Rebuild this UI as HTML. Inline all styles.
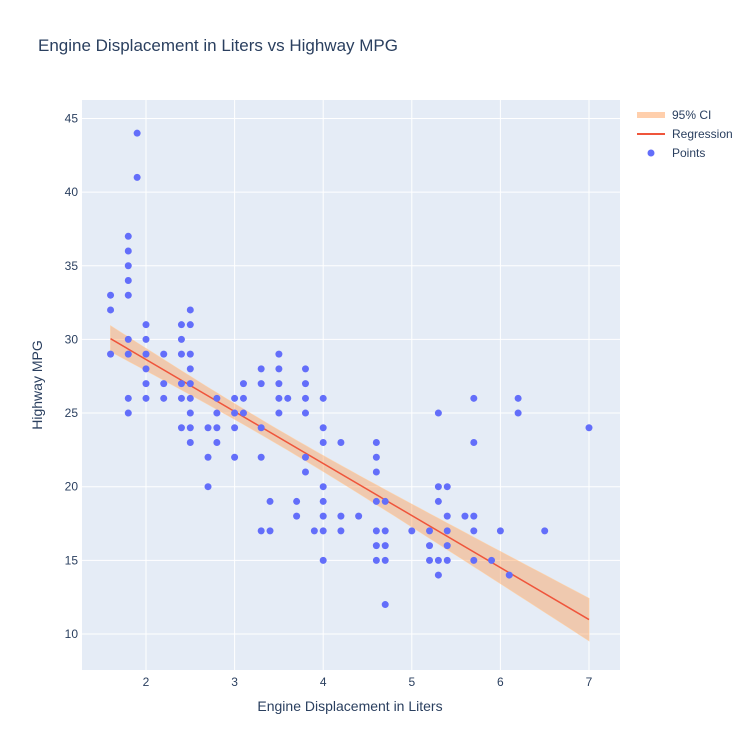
<!DOCTYPE html>
<html><head><meta charset="utf-8"><style>
body{margin:0;background:#fff;}
svg{display:block;font-family:"Liberation Sans",Arial,sans-serif;}
</style></head><body>
<svg id="s" width="750" height="750" xmlns="http://www.w3.org/2000/svg">
<rect x="0" y="0" width="750" height="750" fill="#fff"/>
<rect x="82" y="100" width="538" height="570" fill="#e5ecf6"/>
<g id="grid"></g>
<g id="ci"></g>
<g id="pts"></g>
<text x="38" y="51" font-size="17" fill="#2a3f5f">Engine Displacement in Liters vs Highway MPG</text>
<text x="350" y="711" font-size="14" fill="#2a3f5f" text-anchor="middle">Engine Displacement in Liters</text>
<text transform="translate(42,385) rotate(-90)" font-size="14" fill="#2a3f5f" text-anchor="middle">Highway MPG</text>
<g font-size="12" fill="#2a3f5f">
<line x1="637" y1="115" x2="665" y2="115" stroke="rgba(255,160,90,0.5)" stroke-width="6"/>
<text x="672" y="119">95% CI</text>
<line x1="637" y1="134" x2="665" y2="134" stroke="#ef553b" stroke-width="2"/>
<text x="672" y="138">Regression</text>
<circle cx="651" cy="153" r="3.5" fill="#636efa"/>
<text x="672" y="157">Points</text>
</g>
</svg>
<script>
var NS="http://www.w3.org/2000/svg";
function px(x){return 146+(x-2)*88.6;}
function py(y){return 634-(y-10)*14.73;}
function el(p,t,a,txt){var e=document.createElementNS(NS,t);for(var k in a)e.setAttribute(k,a[k]);if(txt!==undefined)e.textContent=txt;document.getElementById(p).appendChild(e);return e;}
for(var x=2;x<=7;x++){el("grid","line",{x1:px(x),x2:px(x),y1:100,y2:670,stroke:"#fff","stroke-width":1});
el("grid","text",{x:px(x),y:686,"font-size":12,fill:"#2a3f5f","text-anchor":"middle"},x);}
for(var y=10;y<=45;y+=5){el("grid","line",{x1:82,x2:620,y1:py(y),y2:py(y),stroke:"#fff","stroke-width":1});
el("grid","text",{x:78,y:py(y)+4,"font-size":12,fill:"#2a3f5f","text-anchor":"end"},y);}
// CI
var up=[],lo=[];
for(var i=0;i<=54;i++){var x=1.6+i*0.1;var f=35.698-3.531*x;var se=3.836*Math.sqrt(1/234+(x-3.472)*(x-3.472)/387);var h=1.96*se;
up.push(px(x).toFixed(1)+","+py(f+h).toFixed(1));lo.unshift(px(x).toFixed(1)+","+py(f-h).toFixed(1));}
el("ci","polygon",{points:up.concat(lo).join(" "),fill:"rgba(255,150,70,0.4)",stroke:"rgba(255,200,150,0.6)","stroke-width":1});
el("ci","line",{x1:px(1.6),y1:py(35.698-3.531*1.6),x2:px(7),y2:py(35.698-3.531*7),stroke:"#ef553b","stroke-width":1.5});
var d={1.6:[33,32,29],1.8:[37,36,35,34,33,30,29,26,25],1.9:[44,41],2.0:[31,30,29,28,27,26],2.2:[29,27,26],
2.4:[31,30,29,27,26,24],2.5:[32,31,29,28,27,26,25,24,23],2.7:[24,22,20],2.8:[26,25,24,23],3.0:[26,25,24,22],
3.1:[27,26,25],3.3:[28,27,24,22,17],3.4:[19,17],3.5:[29,28,27,26,25],3.6:[26],3.7:[19,18],3.8:[28,27,26,25,22,21],
3.9:[17],4.0:[26,24,23,20,19,18,17,15],4.2:[23,18,17],4.4:[18],4.6:[23,22,21,19,17,16,15],4.7:[19,17,16,15,12],
5.0:[17],5.2:[17,16,15],5.3:[25,20,19,15,14],5.4:[20,18,17,16,15],5.6:[18],5.7:[26,23,18,17,15],5.9:[15],6.0:[17],
6.1:[14],6.2:[26,25],6.5:[17],7.0:[24]};
for(var k in d){d[k].forEach(function(v){el("pts","circle",{cx:px(+k),cy:py(v),r:3.5,fill:"#636efa"});});}
</script>
</body></html>
